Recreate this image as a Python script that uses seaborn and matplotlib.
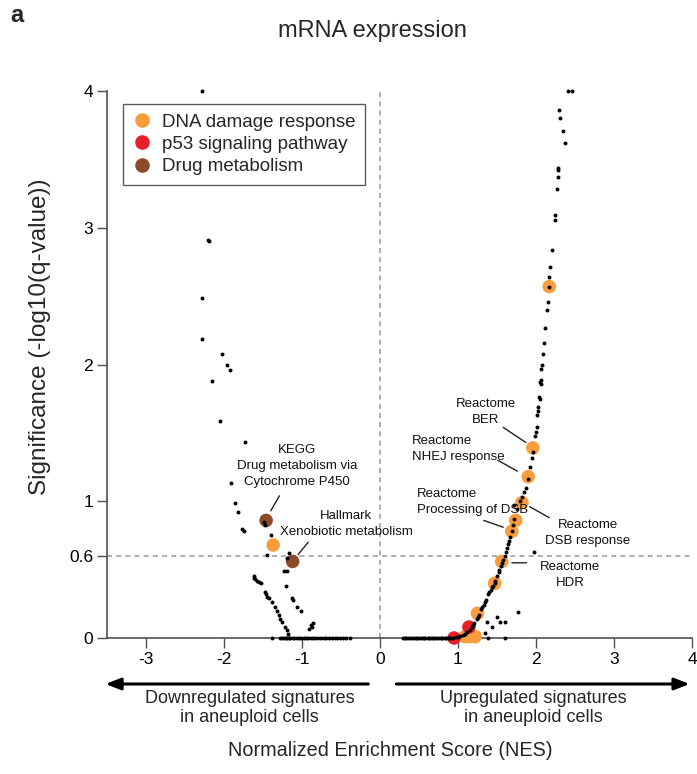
import matplotlib
matplotlib.use("Agg")
import matplotlib.pyplot as plt
from matplotlib.lines import Line2D
import seaborn as sns
import pandas as pd

sns.set_style("ticks")
plt.rcParams['font.family'] = ['Liberation Sans', 'DejaVu Sans']

# ---- background gene sets (black dots) ----
left_x = [-2.28, -2.20, -2.19, -2.28, -2.28, -2.03, -1.96, -1.92, -2.15, -2.05, -1.73,
          -1.91, -1.86, -1.82, -1.77, -1.74, -1.49, -1.48, -1.40, -1.45, -1.17, -1.19,
          -1.23, -1.19, -1.21, -1.13, -1.11, -1.06, -1.01, -0.86, -0.87, -0.91, -1.62,
          -1.60, -1.58, -1.55, -1.53, -1.47, -1.45, -1.42, -1.38, -1.35, -1.32, -1.28,
          -1.26, -1.22, -1.19, -1.18, -1.61, -1.46, -1.30, -0.88]
left_y = [4.00, 2.91, 2.90, 2.49, 2.19, 2.08, 2.00, 1.96, 1.88, 1.59, 1.43,
          1.13, 0.99, 0.92, 0.80, 0.78, 0.85, 0.83, 0.75, 0.61, 0.62, 0.585,
          0.49, 0.49, 0.38, 0.29, 0.28, 0.23, 0.20, 0.11, 0.08, 0.066, 0.45,
          0.43, 0.42, 0.41, 0.40, 0.34, 0.30, 0.29, 0.26, 0.23, 0.20, 0.14,
          0.12, 0.08, 0.06, 0.03, 0.44, 0.32, 0.17, 0.095]
left_zero_x = [-1.38, -1.28, -1.25, -1.23, -1.21, -1.19, -1.17, -1.15, -1.12, -1.10,
               -1.07, -1.04, -1.01, -0.98, -0.95, -0.92, -0.89, -0.86, -0.83, -0.79,
               -0.76, -0.72, -0.69, -0.66, -0.62, -0.58, -0.55, -0.51, -0.47, -0.43, -0.39]
right_zero_x = [0.30, 0.33, 0.36, 0.39, 0.41, 0.44, 0.47, 0.50, 0.52, 0.55, 0.58, 0.61,
                0.63, 0.66, 0.69, 0.72, 0.74, 0.77, 0.80, 0.83, 0.85, 0.88, 0.91, 0.93,
                1.38, 1.60, 0.32, 0.46, 0.57, 0.68, 0.79, 0.87]
right_x = [0.97, 1.00, 1.03, 1.06, 1.09, 1.12, 1.15, 1.18, 1.21, 1.24, 1.27, 1.30, 1.33,
           1.36, 1.39, 1.42, 1.45, 1.48, 1.50, 1.53, 1.55, 1.58, 1.60, 1.62, 1.64, 1.67,
           1.69, 1.70, 1.72, 1.72, 1.76, 1.79, 1.82, 1.85, 1.87, 1.90, 1.92, 1.95, 1.96,
           1.99, 2.00, 2.01, 2.01, 2.02, 2.03, 2.04, 2.05, 2.05, 2.06, 2.06, 2.07, 2.08,
           2.09, 2.10, 2.12, 2.14, 2.15, 2.17, 2.17, 2.18, 2.21, 2.24, 2.25, 2.27, 2.28,
           2.28, 2.28, 2.37, 2.35, 2.31, 2.30, 2.41, 2.46,
           1.37, 1.35, 1.50, 1.54, 1.60, 1.77, 1.97, 1.43,
           1.19, 1.26, 1.31, 1.35, 1.40, 1.44, 1.47, 1.52, 1.57, 1.63, 1.66]
right_y = [0.005, 0.01, 0.015, 0.02, 0.03, 0.045, 0.06, 0.08, 0.11, 0.14, 0.17, 0.21, 0.24,
           0.28, 0.32, 0.35, 0.38, 0.42, 0.45, 0.50, 0.53, 0.57, 0.60, 0.63, 0.69, 0.74,
           0.78, 0.83, 0.87, 0.97, 0.94, 1.00, 1.03, 1.07, 1.10, 1.16, 1.25, 1.32, 1.36,
           1.48, 1.51, 1.54, 1.63, 1.66, 1.69, 1.76, 1.87, 1.75, 1.86, 1.89, 1.97, 2.00,
           2.08, 2.16, 2.27, 2.40, 2.46, 2.57, 2.64, 2.71, 2.84, 3.09, 3.06, 3.28, 3.37,
           3.42, 3.44, 3.62, 3.71, 3.80, 3.86, 4.00, 4.00,
           0.12, 0.04, 0.15, 0.12, 0.12, 0.19, 0.63, 0.08,
           0.095, 0.155, 0.225, 0.26, 0.335, 0.37, 0.40, 0.48, 0.55, 0.66, 0.71]

# ---- highlighted gene sets ----
hl_x = [-1.37, 1.96, 1.90, 1.82, 1.74, 1.69, 1.56, 1.47, 1.25, 2.17, 1.09, 1.15, 1.22,
        0.95, 1.14,
        -1.46, -1.12]
hl_y = [0.68, 1.39, 1.18, 0.99, 0.86, 0.78, 0.56, 0.40, 0.18, 2.57, 0.01, 0.01, 0.01,
        0.00, 0.08,
        0.86, 0.56]
hl_cat = ["DNA damage response"] * 13 + ["p53 signaling pathway"] * 2 + ["Drug metabolism"] * 2
categories = ["DNA damage response", "p53 signaling pathway", "Drug metabolism"]
cat_colors = ["#F89C3C", "#E8202A", "#8C4A2A"]

# ---- labels ----
ann_text = ["KEGG\nDrug metabolism via\nCytochrome P450",
            "Hallmark\nXenobiotic metabolism",
            "Reactome\nBER",
            "Reactome\nNHEJ response",
            "Reactome\nProcessing of DSB",
            "Reactome\nDSB response",
            "Reactome\nHDR"]
ann_pos = [(-1.064, 1.258), (-0.436, 0.834), (1.359, 1.653), (0.41, 1.382),
           (0.474, 0.995), (2.667, 0.768), (2.436, 0.464)]
ann_align = ["center", "center", "center", "left", "left", "center", "center"]
ann_lines = [((-1.29, 1.04), (-1.40, 0.93)), ((-0.92, 0.70), (-1.05, 0.61)),
             ((1.58, 1.54), (1.87, 1.43)), ((1.51, 1.30), (1.76, 1.22)),
             ((1.33, 0.86), (1.58, 0.81)), ((1.92, 0.96), (2.17, 0.88)),
             ((1.69, 0.55), (1.88, 0.55))]

x_ticks = [-3, -2, -1, 0, 1, 2, 3, 4]
y_ticks = [0, 0.6, 1, 2, 3, 4]
y_ticklabels = ["0", "0.6", "1", "2", "3", "4"]

bg = pd.DataFrame({
    "NES": left_x + left_zero_x + right_zero_x + right_x,
    "sig": left_y + [0.0] * len(left_zero_x) + [0.0] * len(right_zero_x) + right_y,
})
hl = pd.DataFrame({"NES": hl_x, "sig": hl_y, "set": hl_cat})

fig = plt.figure(figsize=(6.97, 7.74), dpi=100)
ax = fig.add_axes([0.1535, 0.1757, 0.8393, 0.7067])

ax.axvline(0, color="#a0a0a0", lw=1.2, ls=(0, (3, 2.5)), zorder=1)
ax.axhline(0.6, color="#a0a0a0", lw=1.2, ls=(0, (3, 2.5)), zorder=1)

sns.scatterplot(data=hl, x="NES", y="sig", hue="set", hue_order=categories,
                palette=cat_colors, s=95, linewidth=0, legend=False, ax=ax,
                clip_on=False, zorder=3)
sns.scatterplot(data=bg, x="NES", y="sig", color="black", s=8, linewidth=0,
                legend=False, ax=ax, clip_on=False, zorder=4)

for (t, (tx, ty), al) in zip(ann_text, ann_pos, ann_align):
    ax.text(tx, ty, t, ha=("center" if al == "center" else "left"), va="center",
            multialignment=al, fontsize=9.5, linespacing=1.45, color="#111111", zorder=5)
for (p0, p1) in ann_lines:
    ax.annotate("", xy=p1, xytext=p0,
                arrowprops=dict(arrowstyle="-", lw=1.0, color="#222222",
                                shrinkA=0, shrinkB=0))

ax.set_xlim(-3.5, 4)
ax.set_ylim(0, 4)
ax.set_xticks(x_ticks)
ax.set_xticklabels([str(v) for v in x_ticks])
ax.set_yticks(y_ticks)
ax.set_yticklabels(y_ticklabels)
sns.despine(ax=ax)
for sp in ["left", "bottom"]:
    ax.spines[sp].set_color("#505050")
    ax.spines[sp].set_linewidth(1.2)
ax.tick_params(axis="both", length=7, width=1.0, color="#505050",
               labelsize=12.5, pad=3, labelcolor="black")

ax.set_xlabel("")
ax.set_ylabel("Significance (-log10(q-value))", fontsize=17.5)
ax.yaxis.set_label_coords(-0.095, 0.55)

handles = [Line2D([0], [0], marker="o", ls="", markersize=10.5, markerfacecolor=c,
                  markeredgewidth=0, label=l) for c, l in zip(cat_colors, categories)]
leg = ax.legend(handles=handles, loc="upper left", bbox_to_anchor=(0.027, 0.976),
                borderaxespad=0, frameon=True, fancybox=False, fontsize=13.5,
                handletextpad=0.6, labelspacing=0.28, borderpad=0.5, handlelength=1.0)
leg.get_frame().set_edgecolor("#333333")
leg.get_frame().set_linewidth(1.0)

# direction arrows below the axis
arrow_y = 1 - 684 / 774
ax.annotate("", xy=(-3.52, arrow_y), xytext=(-0.15, arrow_y),
            xycoords=("data", "figure fraction"), textcoords=("data", "figure fraction"),
            arrowprops=dict(arrowstyle="-|>,head_length=0.9,head_width=0.35", lw=2.2,
                            color="black", shrinkA=0, shrinkB=0), annotation_clip=False)
ax.annotate("", xy=(3.97, arrow_y), xytext=(0.21, arrow_y),
            xycoords=("data", "figure fraction"), textcoords=("data", "figure fraction"),
            arrowprops=dict(arrowstyle="-|>,head_length=0.9,head_width=0.35", lw=2.2,
                            color="black", shrinkA=0, shrinkB=0), annotation_clip=False)
ax.annotate("Downregulated signatures\nin aneuploid cells", xy=(-1.67, 1 - 708 / 774),
            xycoords=("data", "figure fraction"), ha="center", va="center",
            fontsize=13, linespacing=1.2, annotation_clip=False)
ax.annotate("Upregulated signatures\nin aneuploid cells", xy=(1.97, 1 - 708 / 774),
            xycoords=("data", "figure fraction"), ha="center", va="center",
            fontsize=13, linespacing=1.2, annotation_clip=False)

fig.text(390 / 697, 1 - 750 / 774, "Normalized Enrichment Score (NES)",
         ha="center", va="center", fontsize=14.3)
fig.text(372 / 697, 1 - 31 / 774, "mRNA expression", ha="center", va="center", fontsize=17)
fig.text(10 / 697, 1 - 16 / 774, "a", ha="left", va="center", fontsize=17, fontweight="bold")

fig.savefig("out.png", dpi=100)
